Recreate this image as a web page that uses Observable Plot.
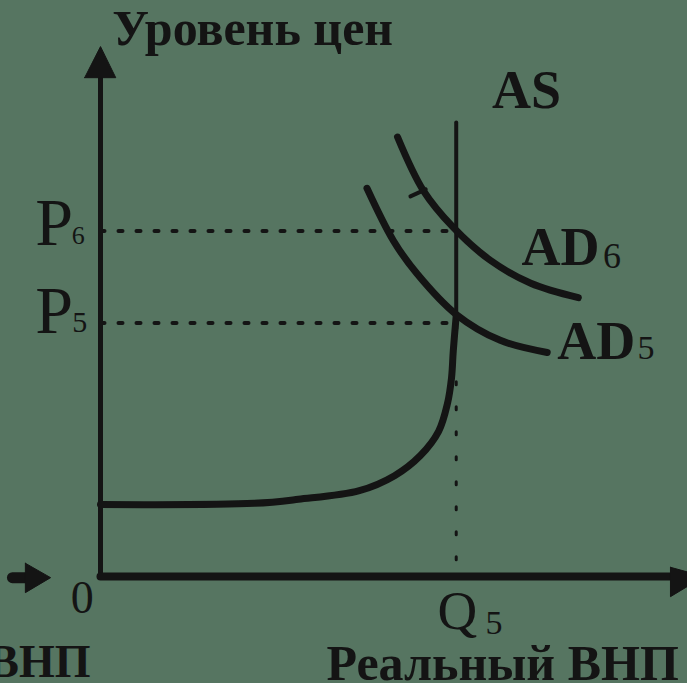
<!DOCTYPE html>
<html>
<head>
<meta charset="utf-8">
<script src="https://cdn.jsdelivr.net/npm/d3@7"></script>
<script src="https://cdn.jsdelivr.net/npm/@observablehq/plot@0.6"></script>
<style>
  html, body { margin: 0; padding: 0; background: #567561; }
  svg { display: block; }
</style>
</head>
<body>
<div id="chart"></div>
<script>
// ---- Data (abstract units: real GNP on x, price level on y; 0..100) ----
const priceLevels = { P6: 60.0, P5: 44.0 };
const outputQ5 = 60.6;

const asCurve = [
  [0, 12.5], [26.2, 12.7], [33.7, 13.4], [44.1, 14.9], [50.1, 17.5],
  [54.5, 21.0], [57.6, 25.2], [59.1, 30.0], [59.8, 34.5], [60.1, 39.2], [60.6, 45.3]
];
const asVertical = [[60.6, 43], [60.6, 78.8]];

const ad6 = [[50.6, 76.3], [55.0, 67.0], [60.1, 60.6], [66.4, 54.9], [73.3, 50.9], [81.4, 48.4]];
const ad6Tick = [[52.8, 66.0], [55.4, 67.2]];
const ad5 = [[45.4, 67.4], [49.9, 58.3], [53.9, 52.6], [60.6, 45.5], [68.1, 41.0], [76.1, 38.9]];

const yAxisLine = [[0, 0], [0, 87]];
const xAxisLine = [[0, 0], [97.2, 0]];
const yArrow = [[-2.7, 86.6], [0, 92.0], [2.6, 86.6], [-2.7, 86.6]];
const xArrow = [[97.1, 1.6], [102.8, 0], [97.1, -3.5], [97.1, 1.6]];
const prevArrowShaft = [[-15, -0.2], [-12.8, -0.2]];
const prevArrow = [[-12.8, 2.3], [-8.5, -0.2], [-12.8, -2.8], [-12.8, 2.3]];

const mainLabels = [
  { x: 2.0, y: 92.2, text: "Уровень цен", size: 50, weight: "bold", anchor: "start" },
  { x: 66.7, y: 81.4, text: "AS", size: 54, weight: "bold", anchor: "start" },
  { x: 71.7, y: 54.0, text: "AD", size: 54, weight: "bold", anchor: "start" },
  { x: 77.8, y: 37.8, text: "AD", size: 54, weight: "bold", anchor: "start" },
  { x: -11.1, y: 57.5, text: "P", size: 68, weight: "normal", anchor: "start" },
  { x: -11.1, y: 42.2, text: "P", size: 68, weight: "normal", anchor: "start" },
  { x: -3.1, y: -6.25, text: "0", size: 46, weight: "normal", anchor: "middle" },
  { x: 57.4, y: -9.2, text: "Q", size: 55, weight: "normal", anchor: "start" },
  { x: 38.5, y: -17.9, text: "Реальный ВНП", size: 50, weight: "bold", anchor: "start" },
  { x: -1.7, y: -17.5, text: "ВНП", size: 46, weight: "bold", anchor: "end" }
];
const subLabels = [
  { x: 85.6, y: 53.6, text: "6", size: 36 },
  { x: 91.5, y: 37.8, text: "5", size: 34 },
  { x: -4.9, y: 57.8, text: "6", size: 26 },
  { x: -4.8, y: 42.4, text: "5", size: 30 },
  { x: 65.6, y: -9.9, text: "5", size: 34 }
];

const ink = "#141414";
const font = "'Liberation Serif', 'Times New Roman', serif";

const p6Line = [[0, priceLevels.P6], [outputQ5, priceLevels.P6]];
const p5Line = [[0, priceLevels.P5], [outputQ5, priceLevels.P5]];
const q5Line = [[outputQ5, 33.8], [outputQ5, 0]];

const plot = Plot.plot({
  width: 687,
  height: 683,
  marginLeft: 100,
  marginRight: 0,
  marginTop: 0,
  marginBottom: 107,
  x: { domain: [0, 100], axis: null },
  y: { domain: [0, 100], axis: null },
  style: { background: "#567561", color: ink, overflow: "visible" },
  marks: [
    // dotted guides
    Plot.line(p6Line, { x: d => d[0], y: d => d[1], stroke: ink, strokeWidth: 4, strokeDasharray: "4,14" }),
    Plot.line(p5Line, { x: d => d[0], y: d => d[1], stroke: ink, strokeWidth: 4, strokeDasharray: "4,14" }),
    Plot.line(q5Line, { x: d => d[0], y: d => d[1], stroke: ink, strokeWidth: 3, strokeDasharray: "3,22" }),
    // axes
    Plot.line(yAxisLine, { x: d => d[0], y: d => d[1], stroke: ink, strokeWidth: 5 }),
    Plot.line(xAxisLine, { x: d => d[0], y: d => d[1], stroke: ink, strokeWidth: 8 }),
    Plot.line(yArrow, { x: d => d[0], y: d => d[1], stroke: ink, fill: ink, strokeWidth: 1 }),
    Plot.line(xArrow, { x: d => d[0], y: d => d[1], stroke: ink, fill: ink, strokeWidth: 1 }),
    Plot.line(prevArrowShaft, { x: d => d[0], y: d => d[1], stroke: ink, strokeWidth: 11 }),
    Plot.line(prevArrow, { x: d => d[0], y: d => d[1], stroke: ink, fill: ink, strokeWidth: 1 }),
    // AS curve
    Plot.line(asCurve, { x: d => d[0], y: d => d[1], stroke: ink, strokeWidth: 7, curve: "catmull-rom" }),
    Plot.line(asVertical, { x: d => d[0], y: d => d[1], stroke: ink, strokeWidth: 4 }),
    // AD curves
    Plot.line(ad6, { x: d => d[0], y: d => d[1], stroke: ink, strokeWidth: 7, curve: "catmull-rom" }),
    Plot.line(ad6Tick, { x: d => d[0], y: d => d[1], stroke: ink, strokeWidth: 4 }),
    Plot.line(ad5, { x: d => d[0], y: d => d[1], stroke: ink, strokeWidth: 7, curve: "catmull-rom" }),
    // labels
    ...mainLabels.map(l => Plot.text([l], {
      x: "x", y: "y", text: "text", fill: ink, fontFamily: font,
      fontSize: l.size, fontWeight: l.weight, textAnchor: l.anchor, lineAnchor: "bottom"
    })),
    ...subLabels.map(l => Plot.text([l], {
      x: "x", y: "y", text: "text", fill: ink, fontFamily: font,
      fontSize: l.size, textAnchor: "start", lineAnchor: "bottom"
    }))
  ]
});
document.getElementById("chart").appendChild(plot);
</script>
</body>
</html>
